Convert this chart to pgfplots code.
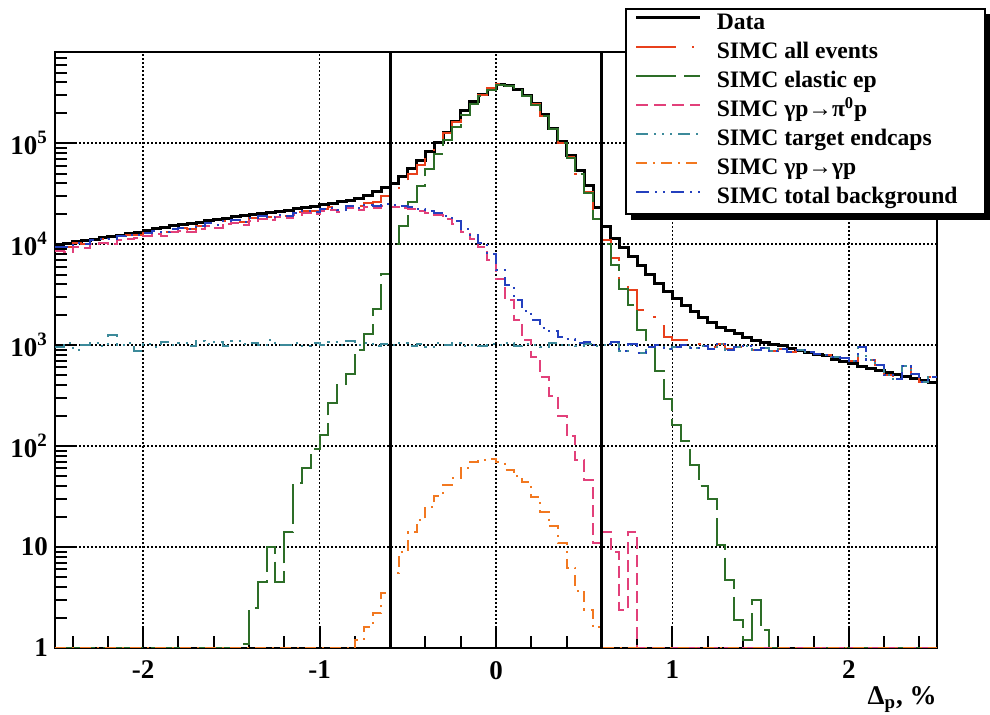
\documentclass[border=0pt]{standalone}
\usepackage{fontspec}
\setmainfont{Liberation Serif}
\usepackage{pgfplots}
\pgfplotsset{compat=1.18}
\usepackage{pgfplotstable}
\definecolor{cRed}{RGB}{232,64,28}
\definecolor{cGreen}{RGB}{45,110,40}
\definecolor{cPink}{RGB}{226,64,122}
\definecolor{cTeal}{RGB}{60,138,154}
\definecolor{cOrange}{RGB}{242,120,32}
\definecolor{cBlue}{RGB}{36,64,190}
\pgfplotstableread{
x data all el pi ec gg bk
-2.50 10000 9450 1 8500 950 1 9450
-2.45 10230 9350 1 8300 1050 1 9350
-2.40 10700 10200 1 9300 900 1 10200
-2.35 10960 10100 1 9100 1000 1 10100
-2.30 11220 11060 1 10000 1060 1 11060
-2.25 11750 11180 1 10200 980 1 11180
-2.20 12020 11250 1 10000 1250 1 11250
-2.15 12300 12000 1 11000 1000 1 12000
-2.10 12880 12240 1 11200 1040 1 12240
-2.05 13180 12380 1 11500 880 1 12380
-2.00 13800 13020 1 12000 1020 1 13020
-1.95 14130 13560 1 12600 960 1 13560
-1.90 14450 13080 1 12000 1080 1 13080
-1.85 15140 14200 1 13200 1000 1 14200
-1.80 15490 14550 1 13500 1050 1 14550
-1.75 15850 14170 1 13200 970 1 14170
-1.70 16220 15200 1 14100 1100 1 15200
-1.65 16980 16120 1 15100 1020 1 16120
-1.60 17380 15580 1 14500 1080 1 15580
-1.55 17780 16790 1 15800 990 1 16790
-1.50 18620 17300 1 16200 1100 1 17300
-1.45 19050 16531 1.1 15500 1030 1 16530
-1.40 19500 18063 2.5 17000 1060 1 18060
-1.35 19950 18805 4.5 17800 1000 1 18800
-1.30 20420 18530 10 17400 1120 1 18520
-1.25 20890 19615 4.5 18600 1010 1 19610
-1.20 21380 19214 14 18200 1000 1 19200
-1.15 22390 20593 43 19500 1050 1 20550
-1.10 22910 21440 60 20400 980 1 21380
-1.05 23440 21133 93 20000 1040 1 21040
-1.00 24550 22530 130 21400 1000 1 22400
-0.95 25120 23240 270 21900 1070 1 22970
-0.90 26300 22310 400 20900 1010 1 21910
-0.85 26920 24520 520 22900 1100 1 24000
-0.80 28180 23791 890 21900 1000 1.2 22901
-0.75 30200 25762 1300 23400 1060 1.6 24462
-0.70 33110 26192 2300 22900 990 2.2 23892
-0.65 36300 30134 5100 24000 1030 3.5 25034
-0.60 39810 34406 10000 23400 1000 5.5 24406
-0.55 46800 38959 15000 22900 1050 9 23959
-0.50 56200 49394 26000 22400 980 14 23394
-0.45 67600 60439 38000 21400 1020 18.6 22439
-0.40 83200 76385 55000 20400 960 25 21385
-0.35 102300 98572 78000 19500 1040 32 20572
-0.30 128800 126841 108000 17800 1000 41 18841
-0.25 162200 161908 145000 15800 1060 48 16908
-0.20 208900 206250 192000 13200 990 60 14250
-0.15 259000 258280 246000 11200 1010 70 12280
-0.10 304000 303343 293000 9300 970 73 10343
-0.05 348000 348004 340000 6900 1030 74 8004
0.00 382000 382539 377000 4470 1000 69 5539
0.05 373000 373908 370000 2800 1050 58 3908
0.10 340000 338810 336000 1780 980 50 2810
0.15 296000 294184 292000 1120 1020 44 2184
0.20 246000 242791 241000 760 1000 31 1791
0.25 190500 187462 186000 480 960 22 1462
0.30 141300 138372 137000 316 1040 16 1372
0.35 104700 101211 100000 200 1000 11 1211
0.40 75860 72142 71000 126 1010 6.2 1142
0.45 53700 50046 49000 72 970 3.7 1046
0.50 38000 33078 32000 46 1030 2.4 1078
0.55 22900 18803 17800 11 990 1.6 1003
0.60 14800 11014 10000 14 1000 1 1014
0.65 11480 7269 6200 9 1060 1 1069
0.70 9330 4482 3600 2.4 880 1 882
0.75 7590 3514 2500 14 1000 1 1014
0.80 6170 2240 1400 1 840 1 840
0.85 5010 1900 950 1 950 1 950
0.90 4070 1560 560 1 1000 1 1000
0.95 3390 1210 290 1 920 1 920
1.00 2880 1120 160 1 960 1 960
1.05 2450 1112 112 1 1000 1 1000
1.10 2140 1005 65 1 940 1 940
1.15 1860 1020 40 1 980 1 980
1.20 1660 950 30 1 920 1 920
1.25 1510 1030 10.5 1 1020 1 1020
1.30 1380 905 4.7 1 900 1 900
1.35 1290 952 1.9 1 950 1 950
1.40 1200 981 1.2 1 980 1 980
1.45 1120 903 3 1 900 1 900
1.50 1070 942 1.5 1 940 1 940
1.55 1020 880 1 1 880 1 880
1.60 980 920 1 1 920 1 920
1.65 930 860 1 1 860 1 860
1.70 890 900 1 1 900 1 900
1.75 850 850 1 1 850 1 850
1.80 810 820 1 1 820 1 820
1.85 780 800 1 1 800 1 800
1.90 720 760 1 1 760 1 760
1.95 690 740 1 1 740 1 740
2.00 650 700 1 1 700 1 700
2.05 620 950 1 1 950 1 950
2.10 590 720 1 1 720 1 720
2.15 560 640 1 1 640 1 640
2.20 540 500 1 1 500 1 500
2.25 510 460 1 1 460 1 460
2.30 490 620 1 1 620 1 620
2.35 470 520 1 1 520 1 520
2.40 450 430 1 1 430 1 430
2.45 430 480 1 1 480 1 480
2.50 430 480 1 1 480 1 480
}\hist
\begin{document}
\begin{tikzpicture}
\path[use as bounding box] (-27.5pt,-33.5pt) rectangle (467.5pt,324pt);
\begin{axis}[
  at={(0pt,0pt)}, anchor=south west,
  scale only axis, width=441pt, height=298pt,
  xmin=-2.5, xmax=2.5,
  ymode=log, log basis y=10, ymin=1, ymax=8e5,
  axis line style={line width=1.2pt},
  tick align=inside, tick pos=left,
  every tick/.style={black, line width=1pt},
  major tick length=11pt, minor tick length=6pt,
  xtick={-2,-1,0,1,2}, xticklabels={-2,-1,0,1,2},
  minor xtick={-2.4,-2.2,-1.8,-1.6,-1.4,-1.2,-0.8,-0.6,-0.4,-0.2,0.2,0.4,0.6,0.8,1.2,1.4,1.6,1.8,2.2,2.4},
  ytick={1,10,100,1000,10000,100000},
  yticklabels={1,10,10\textsuperscript{2},10\textsuperscript{3},10\textsuperscript{4},10\textsuperscript{5}},
  minor ytick={2,3,4,5,6,7,8,9,20,30,40,50,60,70,80,90,200,300,400,500,600,700,800,900,2000,3000,4000,5000,6000,7000,8000,9000,20000,30000,40000,50000,60000,70000,80000,90000,200000,300000,400000,500000,600000,700000},
  tick label style={font=\bfseries\fontsize{13.5}{15}\selectfont},
  xticklabel style={yshift=-3pt},
  grid=major,
  major grid style={black, line width=0.9pt, dash pattern=on 0.9pt off 1.1pt},
  xlabel={\textbf{Δ\textsubscript{p}, \%}},
  xlabel style={font=\bfseries\fontsize{13.5}{15}\selectfont, at={(rel axis cs:1,0)}, anchor=north east, yshift=-19pt, inner sep=0pt},
  legend cell align=left,
  legend image code/.code={\draw[#1] (5pt,0.33em) -- (37pt,0.33em);},
  legend style={name=legbox, at={(0.646,1.074)}, anchor=north west, draw=black, line width=1pt, fill=white,
    font=\bfseries\fontsize{11.8}{13}\selectfont,
    inner xsep=4.5pt, inner ysep=1pt, row sep=1pt,
    nodes={text height=8.5pt, text depth=3pt, inner ysep=1pt, inner xsep=3pt}},
]
\addplot[const plot mark left, black, line width=1.5pt] table[x=x, y=data] {\hist};
\addlegendentry{\hspace*{4.5pt}Data}
\addplot[const plot mark left, cRed, line width=1pt, dash pattern=on 20pt off 8pt on 1pt off 8pt] table[x=x, y=all] {\hist};
\addlegendentry{\hspace*{4.5pt}SIMC all events}
\addplot[const plot mark left, cGreen, line width=1pt, dash pattern=on 20pt off 4pt] table[x=x, y=el] {\hist};
\addlegendentry{\hspace*{4.5pt}SIMC elastic ep}
\addplot[const plot mark left, cPink, line width=1pt, dash pattern=on 6pt off 3pt] table[x=x, y=pi] {\hist};
\addlegendentry{\hspace*{4.5pt}SIMC γp→π\textsuperscript{0}p}
\addplot[const plot mark left, cTeal, line width=1pt, dash pattern=on 6pt off 3pt on 1pt off 3pt on 1pt off 3pt on 1pt off 3pt] table[x=x, y=ec] {\hist};
\addlegendentry{\hspace*{4.5pt}SIMC target endcaps}
\addplot[const plot mark left, cOrange, line width=1pt, dash pattern=on 5.5pt off 3pt on 1pt off 3pt] table[x=x, y=gg] {\hist};
\addlegendentry{\hspace*{4.5pt}SIMC γp→γp}
\addplot[const plot mark left, cBlue, line width=1pt, dash pattern=on 6.5pt off 3pt on 1pt off 3pt on 1pt off 3pt] table[x=x, y=bk] {\hist};
\addlegendentry{\hspace*{4.5pt}SIMC total background\hspace*{6pt}}
\addplot[black, line width=1.6pt, forget plot] coordinates {(-0.6,1) (-0.6,8e5)};
\addplot[black, line width=1.6pt, forget plot] coordinates {(0.6,1) (0.6,8e5)};
\end{axis}
\fill[black] ([xshift=3pt]legbox.south west) rectangle ([xshift=2.5pt,yshift=-2.5pt]legbox.south east);
\fill[black] ([yshift=-3pt]legbox.north east) rectangle ([xshift=2.5pt,yshift=-2.5pt]legbox.south east);
\end{tikzpicture}
\end{document}
